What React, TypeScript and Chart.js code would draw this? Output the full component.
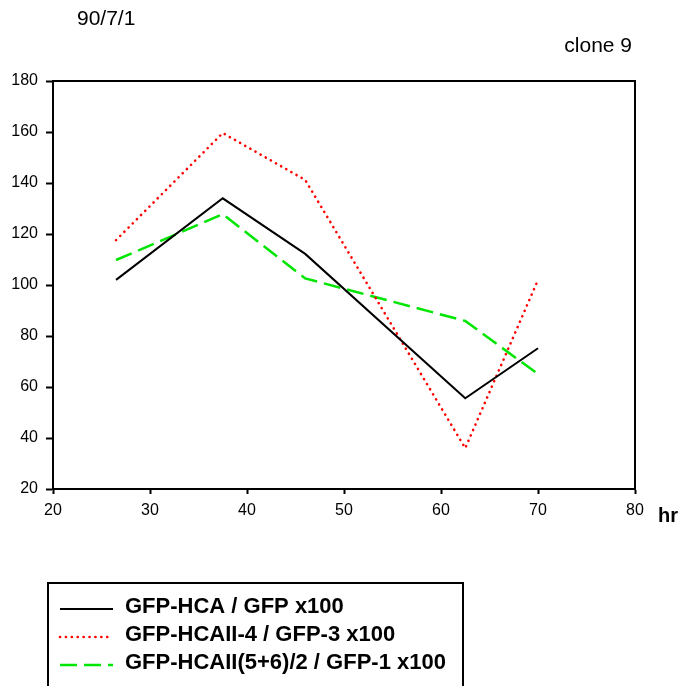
import React, { useEffect, useRef } from "react";
import { Chart, registerables } from "chart.js";

Chart.register(...registerables);

const hours = [26.5, 37.5, 46, 62.5, 70];
const hcaValues = [102, 134, 112.2, 55.6, 75.2];
const hcaII4Values = [117.6, 159.6, 141.2, 36, 102];
const hcaII56Values = [109.8, 127.8, 102.6, 85.9, 65.1];
const seriesLabels = [
  "GFP-HCA / GFP x100",
  "GFP-HCAII-4 / GFP-3 x100",
  "GFP-HCAII(5+6)/2 / GFP-1 x100",
];
const seriesColors = ["#000000", "#ff0000", "#00e600"];
const seriesDashes: number[][] = [[], [0.1, 5.8], [17, 7]];
const seriesWidths = [2, 2.6, 2.5];

const toPoints = (vals: number[]) => vals.map((v, i) => ({ x: hours[i], y: v }));

const decorPlugin = {
  id: "decor",
  afterDraw(chart: any) {
    const ctx = chart.ctx;
    const a = chart.chartArea;
    ctx.save();
    ctx.strokeStyle = "#000";
    ctx.lineWidth = 2;
    ctx.beginPath();
    ctx.moveTo(a.left, a.top);
    ctx.lineTo(a.right, a.top);
    ctx.lineTo(a.right, a.bottom);
    ctx.stroke();

    ctx.fillStyle = "#000";
    ctx.textBaseline = "middle";
    ctx.font = "21px 'Liberation Sans', Arial, sans-serif";
    ctx.textAlign = "left";
    ctx.fillText("90/7/1", 77, 19);
    ctx.textAlign = "right";
    ctx.fillText("clone 9", 632, 46);

    ctx.font = "bold 20px 'Liberation Sans', Arial, sans-serif";
    ctx.textAlign = "left";
    ctx.fillText("hr", 658, 516);

    // legend box
    ctx.lineWidth = 2;
    ctx.strokeRect(48, 583, 415, 130);
    const rows = [607, 635, 663];
    ctx.font = "bold 22px 'Liberation Sans', Arial, sans-serif";
    seriesLabels.forEach((lab, i) => {
      ctx.save();
      ctx.strokeStyle = seriesColors[i];
      ctx.lineWidth = seriesWidths[i];
      ctx.setLineDash(seriesDashes[i]);
      ctx.lineCap = i === 1 ? "round" : "butt";
      ctx.beginPath();
      ctx.moveTo(60, rows[i] + 2);
      ctx.lineTo(113, rows[i] + 2);
      ctx.stroke();
      ctx.restore();
      ctx.fillStyle = "#000";
      ctx.textAlign = "left";
      ctx.fillText(lab, 125, rows[i]);
    });
    ctx.restore();
  },
};

export default function App() {
  const ref = useRef<HTMLCanvasElement>(null);
  useEffect(() => {
    const vals = [hcaValues, hcaII4Values, hcaII56Values];
    const chart = new Chart(ref.current as HTMLCanvasElement, {
      type: "line",
      data: {
        datasets: vals.map((v, i) => ({
          label: seriesLabels[i],
          data: toPoints(v),
          borderColor: seriesColors[i],
          backgroundColor: seriesColors[i],
          borderWidth: seriesWidths[i],
          borderDash: seriesDashes[i],
          borderCapStyle: i === 1 ? "round" : "butt",
          pointRadius: 0,
          tension: 0,
          fill: false,
        })),
      },
      options: {
        animation: false,
        responsive: false,
        maintainAspectRatio: false,
        layout: { padding: { top: 81, right: 46, left: 0, bottom: 0 } },
        plugins: { legend: { display: false }, tooltip: { enabled: false } },
        scales: {
          x: {
            type: "linear",
            min: 20,
            max: 80,
            ticks: {
              stepSize: 10,
              color: "#000",
              font: { family: "'Liberation Sans', Arial, sans-serif", size: 16 },
              padding: 7,
              maxRotation: 0,
            },
            grid: {
              drawOnChartArea: false,
              tickLength: 5,
              tickColor: "#000",
              tickWidth: 2,
            },
            border: { color: "#000", width: 2 },
            afterFit: (s: any) => {
              s.height = 686 - 489;
            },
          },
          y: {
            type: "linear",
            min: 20,
            max: 180,
            ticks: {
              stepSize: 20,
              color: "#000",
              font: { family: "'Liberation Sans', Arial, sans-serif", size: 16 },
              padding: 8,
            },
            grid: {
              drawOnChartArea: false,
              tickLength: 7,
              tickColor: "#000",
              tickWidth: 2,
            },
            border: { color: "#000", width: 2 },
            afterFit: (s: any) => {
              s.width = 53;
            },
          },
        },
      },
      plugins: [decorPlugin],
    } as any);
    return () => chart.destroy();
  }, []);
  return (
    <div style={{ position: "absolute", left: 0, top: 0, width: 681, height: 686, background: "#fff" }}>
      <canvas ref={ref} width={681} height={686} style={{ width: 681, height: 686, display: "block" }} />
    </div>
  );
}
